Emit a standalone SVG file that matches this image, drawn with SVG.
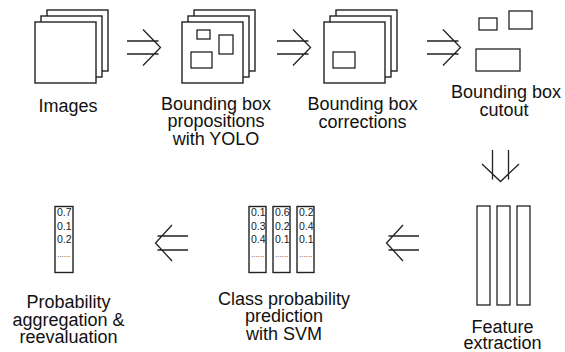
<svg xmlns="http://www.w3.org/2000/svg" width="565" height="352" viewBox="0 0 565 352">
<style>
.s{fill:#fff;stroke:#222;stroke-width:1.4}
.b{fill:none;stroke:#222;stroke-width:1.3}
.a{fill:none;stroke:#222;stroke-width:1.3;stroke-linejoin:miter}
.l{font-family:"Liberation Sans",Arial,sans-serif;font-size:18px;fill:#111;text-anchor:middle}
.n{font-family:"Liberation Sans",Arial,sans-serif;font-size:10.5px;fill:#222}
.d{font-family:"Liberation Sans",Arial,sans-serif;font-size:8px;fill:#333}
</style>
<rect width="565" height="352" fill="#fff"/>
<g id="images">
<rect class="s" x="47" y="10" width="61" height="61"/>
<rect class="s" x="41" y="16" width="61" height="61"/>
<rect class="s" x="35" y="22" width="61" height="61"/>
<text class="l" x="68" y="112">Images</text>
</g>
<g id="yolo">
<rect class="s" x="194" y="10" width="61" height="61"/>
<rect class="s" x="188" y="16" width="61" height="61"/>
<rect class="s" x="182" y="22" width="61" height="61"/>
<rect class="b" x="197" y="30" width="13" height="9"/>
<rect class="b" x="219" y="35" width="14" height="19"/>
<rect class="b" x="191" y="52" width="21" height="16"/>
<text class="l" x="216" y="109.5">Bounding box</text>
<text class="l" x="216" y="127">propositions</text>
<text class="l" x="216" y="144.5">with YOLO</text>
</g>
<g id="corrections">
<rect class="s" x="336" y="10" width="61" height="61"/>
<rect class="s" x="330" y="16" width="61" height="61"/>
<rect class="s" x="324" y="22" width="61" height="61"/>
<rect class="b" x="333" y="52" width="22" height="16"/>
<text class="l" x="362.5" y="110">Bounding box</text>
<text class="l" x="362.5" y="127.5">corrections</text>
</g>
<g id="cutout">
<rect class="b" x="479" y="18" width="18" height="12"/>
<rect class="b" x="509" y="11" width="23" height="18"/>
<rect class="b" x="476" y="49" width="44" height="22"/>
<text class="l" x="506" y="98">Bounding box</text>
<text class="l" x="504" y="115.5">cutout</text>
</g>
<g id="features">
<rect class="b" x="477" y="206" width="13" height="99"/>
<rect class="b" x="497" y="206" width="13" height="99"/>
<rect class="b" x="517" y="206" width="13" height="99"/>
<text class="l" x="502.5" y="332.5">Feature</text>
<text class="l" x="502.5" y="349">extraction</text>
</g>
<g id="svm">
<rect class="s" x="249" y="206.5" width="17" height="66"/>
<rect class="s" x="273" y="206.5" width="17" height="66"/>
<rect class="s" x="297" y="206.5" width="17" height="66"/>
<text class="n" x="251" y="216">0.1</text>
<text class="n" x="251" y="229.5">0.3</text>
<text class="n" x="251" y="243">0.4</text>
<text class="d" x="251" y="257">......</text>
<text class="n" x="275" y="216">0.6</text>
<text class="n" x="275" y="229.5">0.2</text>
<text class="n" x="275" y="243">0.1</text>
<text class="d" x="275" y="257">......</text>
<text class="n" x="299" y="216">0.2</text>
<text class="n" x="299" y="229.5">0.4</text>
<text class="n" x="299" y="243">0.1</text>
<text class="d" x="299" y="257">......</text>
<text class="l" x="284" y="304.5">Class probability</text>
<text class="l" x="284" y="322">prediction</text>
<text class="l" x="284" y="339.5">with SVM</text>
</g>
<g id="aggregation">
<rect class="s" x="55" y="206.5" width="18" height="66"/>
<text class="n" x="57" y="216">0.7</text>
<text class="n" x="57" y="229.5">0.1</text>
<text class="n" x="57" y="243">0.2</text>
<text class="d" x="57" y="257">......</text>
<text class="l" x="68.5" y="308">Probability</text>
<text class="l" x="68.5" y="325.5">aggregation &amp;</text>
<text class="l" x="68.5" y="343">reevaluation</text>
</g>
<g id="connectors">
<path class="a" d="M127 41H158.5M127 54H158.5M143 29.5L160.5 47.5L143 65.5"/>
<path class="a" d="M277 41H308.5M277 54H308.5M293 29.5L310.5 47.5L293 65.5"/>
<path class="a" d="M427 41H458.5M427 54H458.5M443 29.5L460.5 47.5L443 65.5"/>
<path class="a" d="M492.5 150V179.5M508.5 150V179.5M482 164L500.5 181.5L519 164"/>
<path class="a" d="M419 236H388.5M419 250H388.5M403 225L386.5 243L403 261"/>
<path class="a" d="M188 236H157.5M188 250H157.5M172 225L155.5 243L172 261"/>
</g>
</svg>
